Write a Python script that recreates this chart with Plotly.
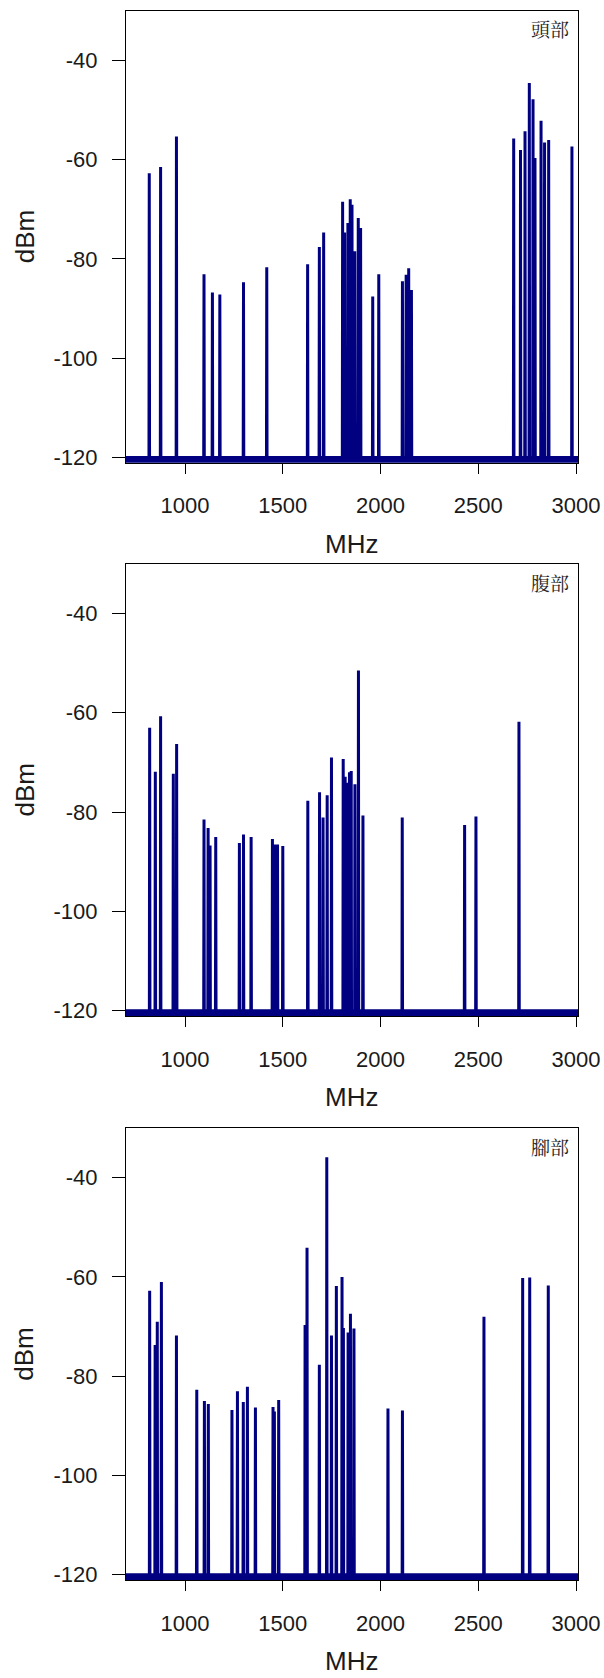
import plotly.graph_objects as go

# Spectrum peaks (MHz, dBm) measured at three body positions
head_freq = [817, 875, 956, 1097, 1140, 1178, 1299, 1418, 1627, 1687, 1709,
             1806, 1816, 1833, 1845, 1854, 1868, 1886, 1898, 1960, 1991,
             2112, 2131, 2144, 2158, 2681, 2716, 2739, 2761, 2780, 2790,
             2821, 2839, 2860, 2979]
head_dbm = [-62.8, -61.5, -55.4, -83.1, -86.8, -87.2, -84.7, -81.7, -81.1, -77.6, -74.7,
            -68.5, -74.7, -72.8, -68.0, -69.1, -78.5, -71.8, -73.8, -87.6, -83.1,
            -84.5, -83.2, -81.9, -86.3, -55.8, -58.1, -54.3, -44.6, -47.9, -59.7,
            -52.2, -56.6, -56.1, -57.4]

belly_freq = [819, 848, 875, 940, 957, 1097, 1118, 1128, 1157, 1278, 1299,
              1338, 1447, 1461, 1473, 1500, 1628, 1688, 1706, 1727, 1749,
              1809, 1819, 1829, 1841, 1850, 1869, 1887, 1910, 2111, 2430,
              2488, 2708]
belly_dbm = [-63.0, -71.9, -60.7, -72.3, -66.3, -81.5, -83.2, -86.7, -85.0, -86.2, -84.5,
             -85.0, -85.4, -86.5, -86.5, -86.8, -77.7, -76.0, -81.1, -76.6, -69.0,
             -69.3, -72.9, -74.1, -72.0, -71.7, -74.4, -51.5, -80.7, -81.1, -82.6,
             -80.9, -61.8]

foot_freq = [819, 847, 858, 879, 956, 1060, 1099, 1119, 1240, 1268, 1298,
             1319, 1360, 1450, 1457, 1479, 1614, 1624, 1687, 1725, 1749,
             1774, 1803, 1810, 1834, 1846, 1864, 2038, 2112, 2529, 2727,
             2763, 2858]
foot_dbm = [-62.8, -73.7, -69.0, -61.0, -71.8, -82.7, -85.0, -85.6, -86.8, -83.0, -85.2,
            -82.1, -86.3, -86.2, -87.1, -84.8, -69.7, -54.1, -77.7, -35.9, -71.8,
            -61.8, -60.0, -70.3, -71.2, -67.4, -70.4, -86.5, -86.9, -68.0, -60.2,
            -60.1, -61.7]

panel_labels = ["頭部", "腹部", "腳部"]
x_ticks = [1000, 1500, 2000, 2500, 3000]
y_ticks = [-40, -60, -80, -100, -120]
x_tick_labels = [str(v) for v in x_ticks]
y_tick_labels = [str(v) for v in y_ticks]  # plain hyphen-minus

FLOOR_DBM = -120.0       # measurement floor between peaks
FLOOR_BAND_DBM = -120.55  # centre of the noise band drawn under the floor
X_RANGE = [698, 3010]
Y_RANGE = [-121.05, -30.05]

LINE_COLOR = "#000080"
FONT = "Liberation Sans, Arial, Helvetica, sans-serif"
CJK_FONT = "Noto Serif CJK TC, Noto Serif CJK SC, Noto Sans CJK TC, serif"

# page geometry (px)
W, H = 604, 1678
ML, MR, MT, MB = 126, 26, 10, 98
PLOT_W = W - ML - MR
PLOT_H = H - MT - MB
panel_tops = [10.7, 564.0, 1128.3]
PANEL_H = 452.0


def yfrac(py):
    return (H - MB - py) / PLOT_H


def xfrac(px):
    return (px - ML) / PLOT_W


def spectrum(freqs, levels, half_width=1.5):
    xs = [X_RANGE[0]]
    ys = [FLOOR_DBM]
    for f, v in zip(freqs, levels):
        xs += [f - half_width, f, f + half_width]
        ys += [FLOOR_DBM, v, FLOOR_DBM]
    xs.append(X_RANGE[1])
    ys.append(FLOOR_DBM)
    return xs, ys


fig = go.Figure()
series = [(head_freq, head_dbm), (belly_freq, belly_dbm), (foot_freq, foot_dbm)]

annotations = []
for i, ((fr, lv), label, top) in enumerate(zip(series, panel_labels, panel_tops)):
    n = "" if i == 0 else str(i + 1)
    xs, ys = spectrum(fr, lv)
    fig.add_trace(go.Scatter(
        x=[X_RANGE[0], X_RANGE[1]], y=[FLOOR_BAND_DBM, FLOOR_BAND_DBM],
        mode="lines", line=dict(color=LINE_COLOR, width=5.5),
        xaxis="x" + n, yaxis="y" + n, showlegend=False, hoverinfo="skip"))
    fig.add_trace(go.Scatter(
        x=xs, y=ys, mode="lines", line=dict(color=LINE_COLOR, width=3),
        xaxis="x" + n, yaxis="y" + n, showlegend=False))

    bottom = top + PANEL_H
    dom = [max(0.0, yfrac(bottom)), min(1.0, yfrac(top))]
    axis_common = dict(showline=True, linecolor="black", linewidth=1.3, mirror=True,
                       showgrid=False, zeroline=False, ticks="outside",
                       tickcolor="black", tickwidth=1.3,
                       tickfont=dict(family=FONT, size=22, color="#1a1a1a"))
    fig.update_layout(**{
        "xaxis" + n: dict(domain=[0, 1], range=X_RANGE, anchor="y" + n,
                          tickvals=x_ticks, ticktext=x_tick_labels,
                          ticklen=10, ticklabelstandoff=13, **axis_common),
        "yaxis" + n: dict(domain=dom, range=Y_RANGE, anchor="x" + n,
                          tickvals=y_ticks, ticktext=y_tick_labels,
                          ticklen=13, ticklabelstandoff=10, **axis_common),
    })

    # axis titles and panel label
    annotations.append(dict(text="dBm", xref="paper", yref="paper",
                            x=xfrac(24.5), y=yfrac(top + PANEL_H / 2),
                            xanchor="center", yanchor="middle", textangle=-90,
                            showarrow=False, font=dict(family=FONT, size=26, color="#1a1a1a")))
    annotations.append(dict(text="MHz", xref="paper", yref="paper",
                            x=xfrac(351.7), y=yfrac(bottom + 81),
                            xanchor="center", yanchor="middle",
                            showarrow=False, font=dict(family=FONT, size=26, color="#1a1a1a")))
    annotations.append(dict(text=label, xref="paper", yref="paper",
                            x=xfrac(571), y=yfrac(top + 18),
                            xanchor="right", yanchor="middle",
                            showarrow=False, font=dict(family=CJK_FONT, size=19, color="#222222")))

fig.update_layout(width=W, height=H,
                  margin=dict(l=ML, r=MR, t=MT, b=MB, autoexpand=False),
                  paper_bgcolor="white", plot_bgcolor="white",
                  annotations=annotations, showlegend=False)

fig.write_html("out.html", config={"displayModeBar": False})
